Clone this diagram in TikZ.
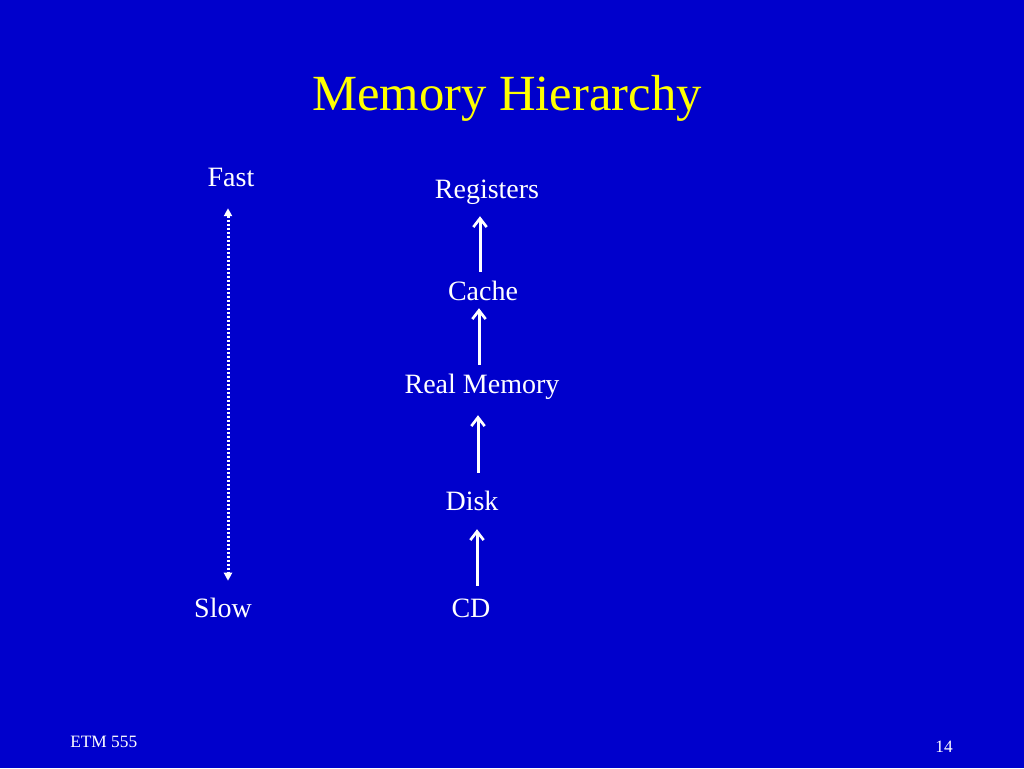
\documentclass[tikz,border=0pt]{standalone}
\usepackage{fontspec}
\setmainfont{Liberation Serif}
\usetikzlibrary{arrows.meta}
\usetikzlibrary{positioning}
\definecolor{slideblue}{RGB}{0,0,204}
\definecolor{titleyellow}{RGB}{255,255,0}

\begin{document}
\begin{tikzpicture}[x=0.75pt, y=-0.75pt, anchor=base,
    lvl/.style = {text=white, font=\fontsize{21}{25}\selectfont, inner sep=0pt,
                  text height=14.7pt, text depth=4.62pt},
    foot/.style = {text=white, font=\fontsize{13}{15}\selectfont, inner sep=0pt},
    uparrow/.style = {white, line width=2.25pt, -{Straight Barb[length=6.5pt, width=10pt, line width=2pt]}},
    speed/.style = {white, line width=2.25pt, dash pattern=on 1.5pt off 1.5pt,
                    {Triangle[length=6pt, width=6pt]}-{Triangle[length=6pt, width=6pt]}}]
    \fill[slideblue] (0,0) rectangle (1024,768);
    \useasboundingbox (0,0) rectangle (1024,768);
    % title
    \node[text=titleyellow, font=\fontsize{38}{44}\selectfont] (title) at (507,110) {Memory Hierarchy};
    % speed scale
    \node[lvl] (fast) at (231,186) {Fast};
    \node[lvl] (slow) at (223,617) {Slow};
    \draw[speed, shorten <=11.85pt, shorten >=12.3pt] ([xshift=-2.25pt]fast.south) -- ([xshift=3.75pt]slow.north);
    % levels
    \node[lvl] (registers) at (487,198) {Registers};
    \node[lvl] (cache) at (483,300) {Cache};
    \node[lvl] (realmem) at (482,393) {Real Memory};
    \node[lvl] (disk) at (472,510) {Disk};
    \node[lvl] (cd) at (471,617) {CD};
    \draw[uparrow, shorten <=6.3pt, shorten >=8.85pt] ([xshift=-2.25pt]cache.north) -- ([xshift=-5.25pt]registers.south);
    \draw[uparrow, shorten <=6.3pt, shorten >=1.35pt] ([xshift=-2.25pt]realmem.north) -- ([xshift=-3pt]cache.south);
    \draw[uparrow, shorten <=13.05pt, shorten >=11.85pt] ([xshift=4.5pt]disk.north) -- ([xshift=-3pt]realmem.south);
    \draw[uparrow, shorten <=8.55pt, shorten >=9.6pt] ([xshift=4.5pt]cd.north) -- ([xshift=3.75pt]disk.south);
    % footer
    \node[foot, anchor=base west] (course) at (70,747) {ETM 555};
    \node[foot] (page) at (944,752) {14};
\end{tikzpicture}
\end{document}
